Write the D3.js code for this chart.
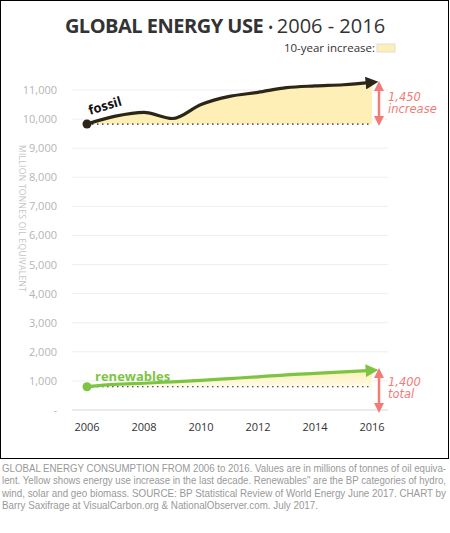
<!DOCTYPE html>
<html><head><meta charset="utf-8">
<script src="https://cdn.jsdelivr.net/npm/d3@7"></script>
<style>body{margin:0;background:#fff}</style>
</head><body>
<svg id="c" width="450" height="533"></svg>
<script>
const years = [2006,2007,2008,2009,2010,2011,2012,2013,2014,2015,2016];
const fossil = [9830,10100,10230,10020,10500,10780,10920,11080,11140,11180,11260];
const renewables = [800,880,920,970,1020,1080,1140,1210,1260,1310,1360];
const yTicks = [0,1000,2000,3000,4000,5000,6000,7000,8000,9000,10000,11000];
const xTicks = [2006,2008,2010,2012,2014,2016];
const footer = [
  "GLOBAL ENERGY CONSUMPTION FROM 2006 to 2016. Values are in millions of tonnes of oil equiva-",
  "lent. Yellow shows energy use increase in the last decade. Renewables\" are the BP categories of hydro,",
  "wind, solar and geo biomass. SOURCE: BP Statistical Review of World Energy June 2017. CHART by",
  "Barry Saxifrage at VisualCarbon.org & NationalObserver.com. July 2017."
];

const svg = d3.select('#c');
const x = d3.scaleLinear().domain([2006,2016]).range([87,372]);
const y = d3.scaleLinear().domain([0,11000]).range([410,90]);

svg.append('defs').html(`
 <marker id="ab" viewBox="0 0 10 10" refX="5" refY="5" markerWidth="4" markerHeight="4" orient="auto"><path d="M0,0L10,5L0,10z" fill="#2b2618"/></marker>
 <marker id="ag" viewBox="0 0 10 10" refX="5" refY="5" markerWidth="4" markerHeight="4" orient="auto"><path d="M0,0L10,5L0,10z" fill="#7dc443"/></marker>
 <marker id="ar" viewBox="0 0 10 10" refX="5" refY="5" markerWidth="4" markerHeight="4" orient="auto-start-reverse"><path d="M0,0L10,5L0,10z" fill="#f07c78"/></marker>
 <linearGradient id="fade" x1="0" x2="0" y1="0" y2="1"><stop offset="0" stop-color="#fdefb5"/><stop offset="1" stop-color="#fffbe8"/></linearGradient>`);

svg.append('rect').attr('x',0.5).attr('y',0.5).attr('width',448).attr('height',458)
  .attr('fill','none').attr('stroke','#000');

// grid
svg.append('g').selectAll('line').data(yTicks).join('line')
  .attr('x1',72).attr('x2',388).attr('y1',d=>y(d)).attr('y2',d=>y(d))
  .attr('stroke',d=>d===0?'#d8d8d8':'#eeeeee');
svg.append('g').selectAll('text').data(yTicks).join('text')
  .attr('x',57).attr('y',d=>y(d)+4).attr('text-anchor','end')
  .attr('font-family','Open Sans').attr('font-size',11).attr('fill','#b5b5b5')
  .text(d=>d===0?'-':d3.format(',')(d));
svg.append('g').selectAll('text').data(xTicks).join('text')
  .attr('x',d=>x(d)).attr('y',431).attr('text-anchor','middle')
  .attr('font-family','Open Sans').attr('font-size',11).attr('fill','#333')
  .text(d=>d);
svg.append('text').attr('transform','translate(19,145) rotate(90)')
  .attr('font-family','Open Sans').attr('font-size',8.5).attr('fill','#c4c4c4')
  .attr('letter-spacing',0.3).text('MILLION TONNES OIL EQUIVALENT');

function series(vals, color, marker, fillId){
  const pts = years.map((yr,i)=>[yr,vals[i]]);
  const base = vals[0];
  const curve = d3.curveMonotoneX;
  svg.append('path').datum(pts)
    .attr('d', d3.area().x(d=>x(d[0])).y0(y(base)).y1(d=>y(d[1])).curve(curve))
    .attr('fill', fillId);
  svg.append('line').attr('x1',x(2006)).attr('x2',x(2016)).attr('y1',y(base)).attr('y2',y(base))
    .attr('stroke','#222').attr('stroke-dasharray','1.5,3.5').attr('stroke-width',1.2);
  svg.append('path').datum(pts)
    .attr('d', d3.line().x(d=>x(d[0])).y(d=>y(d[1])).curve(curve))
    .attr('fill','none').attr('stroke',color).attr('stroke-width',3.2)
    .attr('marker-end',`url(#${marker})`);
  svg.append('circle').attr('cx',x(2006)).attr('cy',y(base)).attr('r',4.5).attr('fill',color);
}
series(fossil,'#2b2618','ab','#fdefb5');
series(renewables,'#7dc443','ag','url(#fade)');

svg.append('text').attr('transform',`translate(${x(2006)+3},${y(fossil[0])-9}) rotate(-17)`)
  .attr('font-family','Open Sans').attr('font-weight','bold').attr('font-size',13).attr('fill','#111').text('fossil');
svg.append('text').attr('x',x(2006)+8).attr('y',y(renewables[0])-6)
  .attr('font-family','Open Sans').attr('font-weight','bold').attr('font-size',13).attr('fill','#7dc443').text('renewables');

// red annotation arrows
function ann(top,bottom,l1,l2,ty){
  svg.append('line').attr('x1',379).attr('x2',379).attr('y1',top).attr('y2',bottom)
    .attr('stroke','#f07c78').attr('stroke-width',2.5)
    .attr('marker-start','url(#ar)').attr('marker-end','url(#ar)');
  const t = svg.append('text').attr('y',ty)
    .attr('font-family','DejaVu Sans').attr('font-style','italic').attr('font-size',11.5).attr('fill','#f07c78');
  t.append('tspan').attr('x',388).text(l1);
  t.append('tspan').attr('x',388).attr('dy',12).text(l2);
}
ann(86,121,'1,450','increase',101);
ann(373,408,'1,400','total',386);

// title
const title = svg.append('text').attr('x',225).attr('y',33).attr('text-anchor','middle')
  .attr('font-family','Open Sans').attr('font-size',20).attr('fill','#333');
title.append('tspan').attr('font-weight','bold').attr('letter-spacing',-0.5).text('GLOBAL ENERGY USE ');
title.append('tspan').attr('font-size',14).text('\u2022 ');
title.append('tspan').text('2006 - 2016');
svg.append('text').attr('x',375).attr('y',52).attr('text-anchor','end')
  .attr('font-family','Open Sans').attr('font-size',11.5).attr('fill','#333').text('10-year increase:');
svg.append('rect').attr('x',377).attr('y',44).attr('width',18).attr('height',8)
  .attr('fill','#fdefb5').attr('stroke','#ddd');

svg.append('g').selectAll('text').data(footer).join('text')
  .attr('x',2).attr('y',(d,i)=>472+i*12.3)
  .attr('font-family','Liberation Sans').attr('font-size',10.5).attr('fill','#999')
  .attr('textLength',(d,i)=>i===3?316:444).attr('lengthAdjust','spacingAndGlyphs')
  .text(d=>d);
</script>
</body></html>
